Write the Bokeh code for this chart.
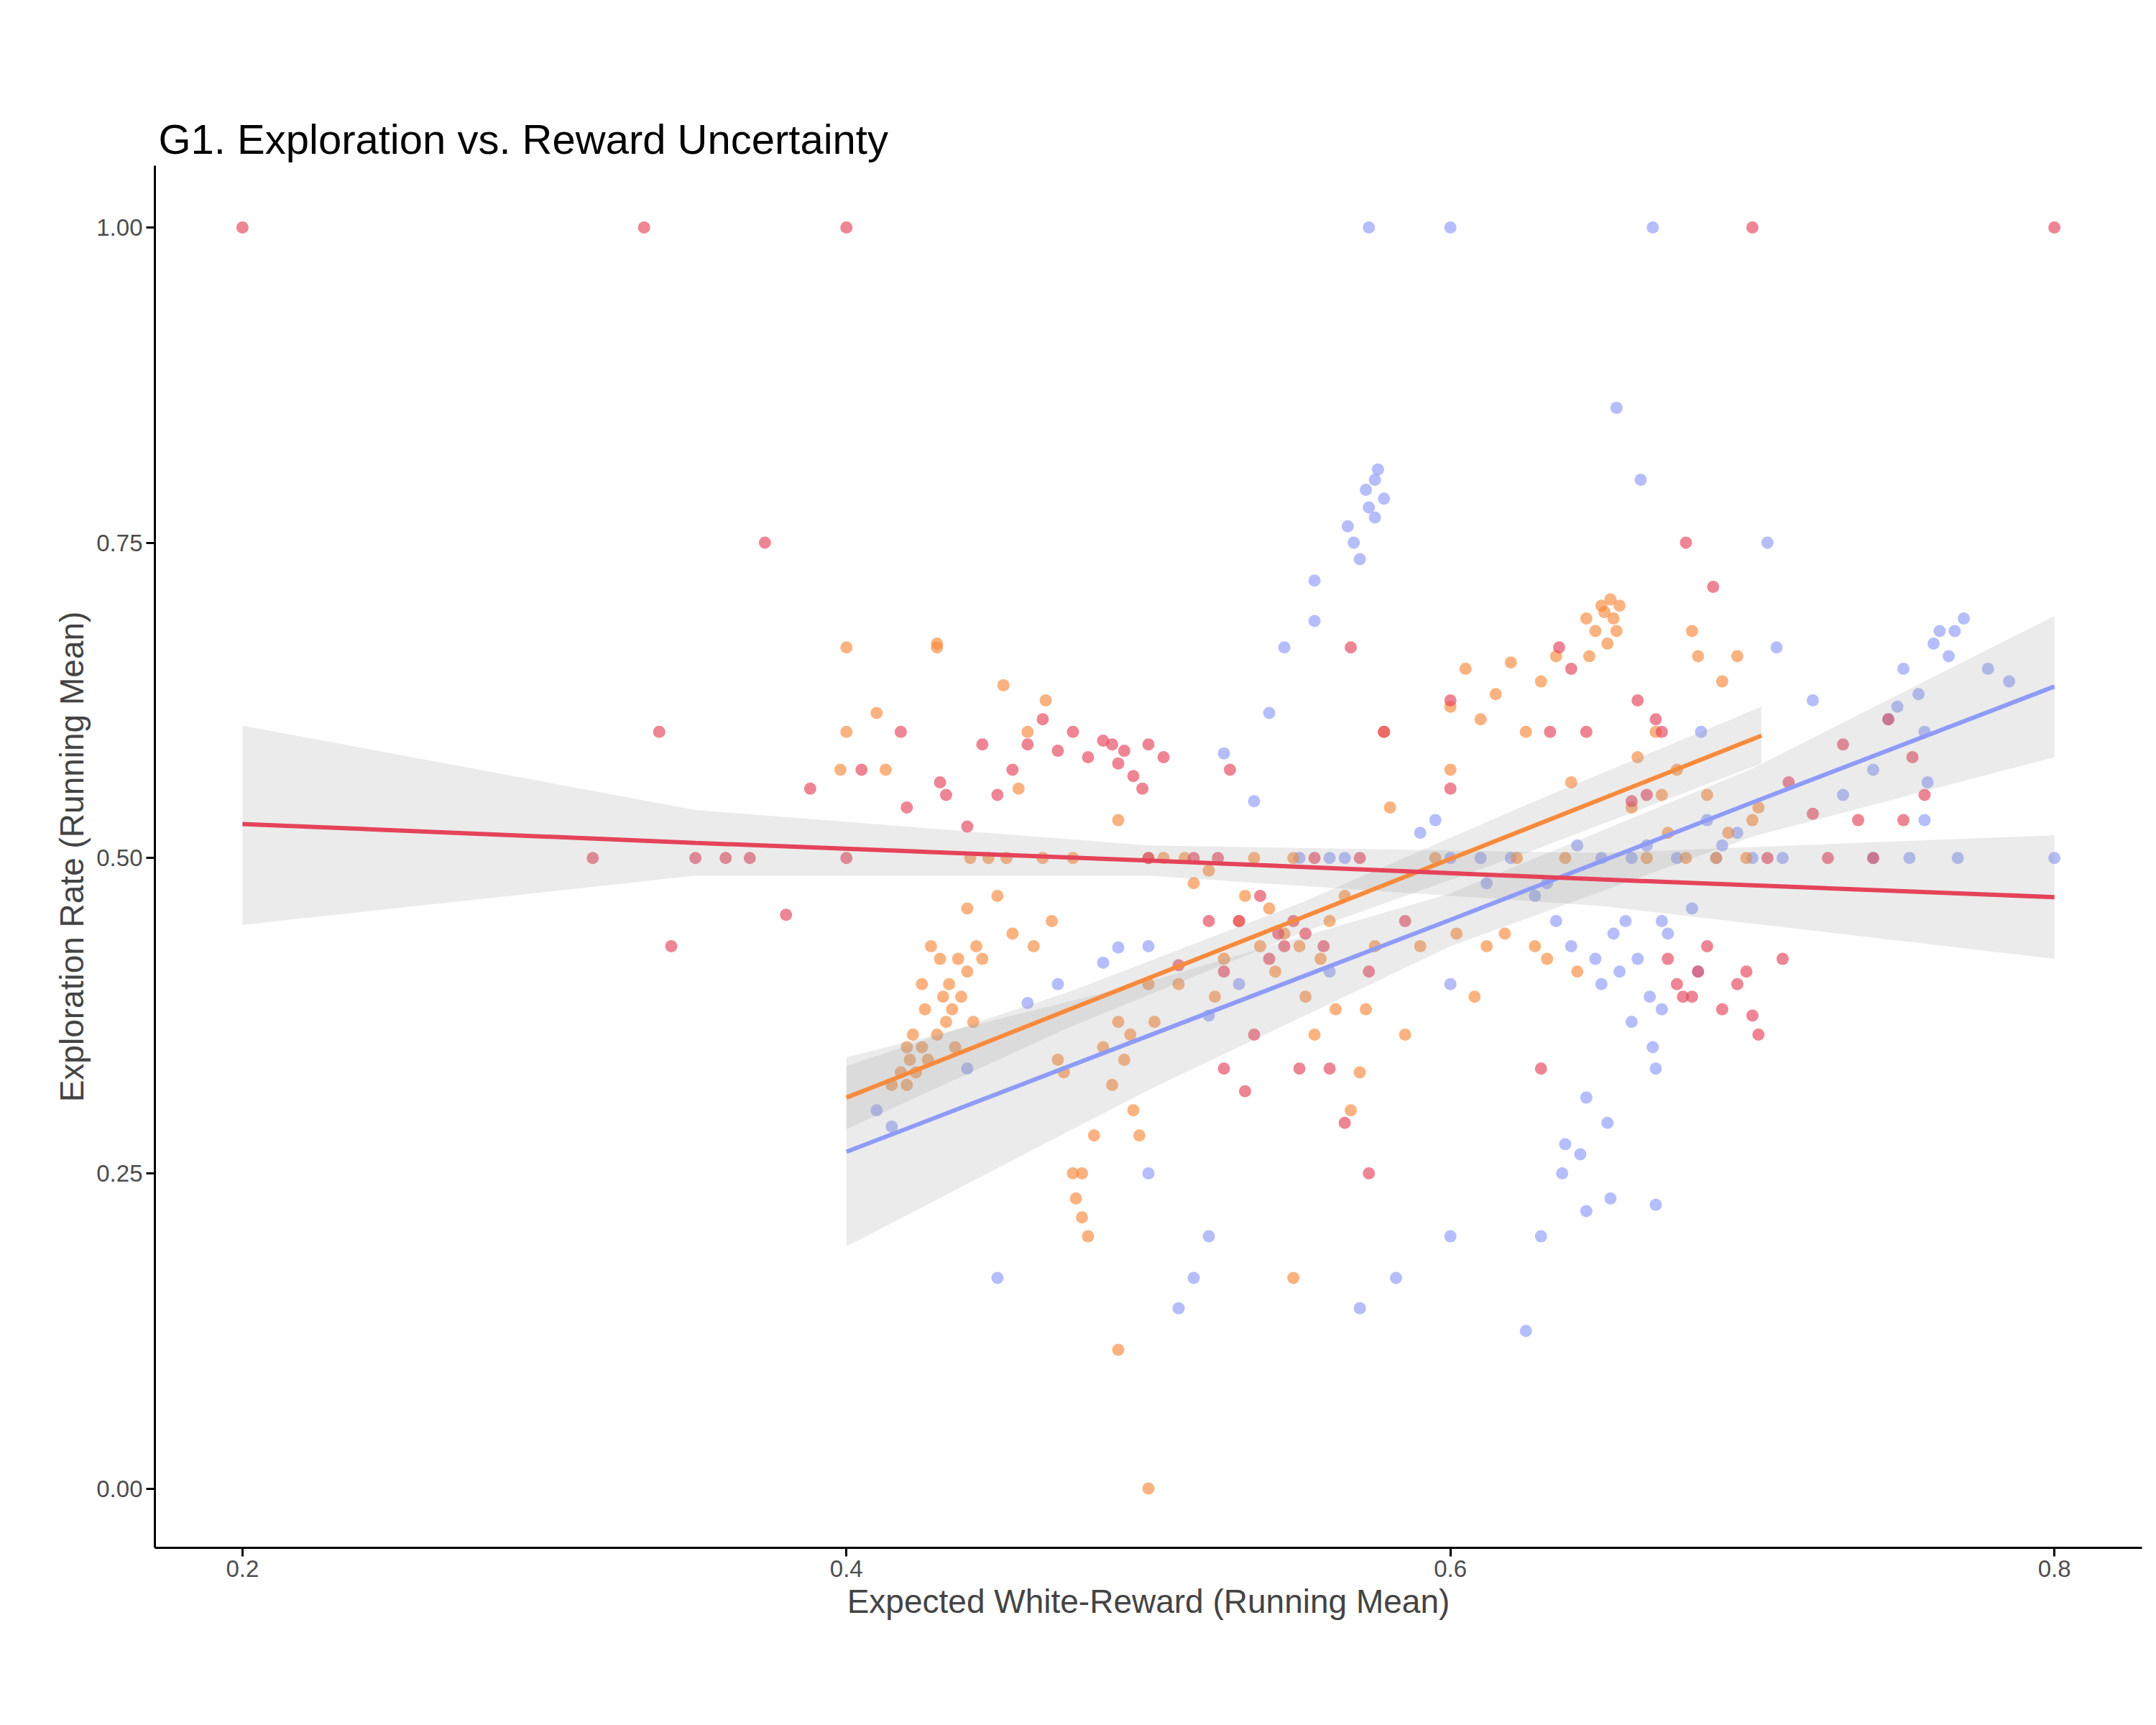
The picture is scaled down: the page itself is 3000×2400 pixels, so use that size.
from bokeh.plotting import figure
from bokeh.models import ColumnDataSource, Legend, LegendItem, FixedTicker, Range1d
from bokeh.embed import file_html
from bokeh.resources import INLINE

solo_x = [0.41,0.415,0.44,0.45,0.46,0.47,0.485,0.49,0.5,0.5,0.51,0.515,0.52,0.52,0.525,0.53,0.535,0.54,0.545,0.55,0.555,0.555,0.56,0.56,0.565,0.566,0.568,0.57,0.572,0.573,0.575,0.575,0.576,0.578,0.57,0.582,0.59,0.595,0.6,0.6,0.6,0.61,0.612,0.62,0.625,0.628,0.63,0.632,0.635,0.638,0.64,0.642,0.645,0.645,0.648,0.65,0.65,0.652,0.654,0.655,0.656,0.658,0.66,0.66,0.662,0.663,0.665,0.666,0.667,0.668,0.67,0.67,0.672,0.675,0.68,0.683,0.685,0.688,0.69,0.695,0.7,0.705,0.708,0.71,0.72,0.73,0.74,0.745,0.748,0.75,0.752,0.755,0.757,0.758,0.76,0.762,0.765,0.767,0.768,0.77,0.778,0.785,0.8,0.74,0.757,0.6,0.667,0.573,0.637,0.643,0.653,0.668,0.682]
solo_y = [0.3,0.287,0.333,0.167,0.385,0.4,0.417,0.429,0.25,0.43,0.143,0.167,0.2,0.375,0.583,0.4,0.545,0.615,0.667,0.5,0.688,0.72,0.5,0.41,0.5,0.763,0.75,0.737,0.792,0.778,0.8,0.77,0.808,0.785,0.143,0.167,0.52,0.53,0.4,0.5,0.2,0.5,0.48,0.5,0.125,0.47,0.2,0.48,0.45,0.273,0.43,0.51,0.31,0.22,0.42,0.4,0.5,0.29,0.44,0.857,0.41,0.45,0.5,0.37,0.42,0.8,0.51,0.39,0.35,0.333,0.45,0.38,0.44,0.5,0.46,0.6,0.53,0.5,0.51,0.52,0.5,0.75,0.667,0.5,0.625,0.55,0.5,0.61,0.62,0.65,0.5,0.63,0.53,0.56,0.67,0.68,0.66,0.68,0.5,0.69,0.65,0.64,0.5,0.57,0.6,1.0,1.0,1.0,0.25,0.265,0.23,0.225,0.41,0.385,0.835]
duo_x = [0.398,0.4,0.4,0.41,0.413,0.415,0.418,0.42,0.42,0.421,0.422,0.423,0.425,0.425,0.426,0.427,0.428,0.43,0.43,0.431,0.432,0.433,0.434,0.435,0.436,0.437,0.438,0.44,0.44,0.441,0.442,0.443,0.445,0.447,0.45,0.452,0.453,0.455,0.457,0.46,0.462,0.465,0.466,0.468,0.47,0.472,0.475,0.476,0.478,0.48,0.482,0.485,0.488,0.49,0.49,0.492,0.494,0.495,0.497,0.5,0.5,0.502,0.505,0.51,0.512,0.515,0.52,0.522,0.525,0.53,0.532,0.535,0.537,0.54,0.542,0.545,0.548,0.55,0.552,0.555,0.557,0.56,0.562,0.565,0.567,0.57,0.572,0.575,0.578,0.58,0.585,0.59,0.595,0.6,0.6,0.602,0.605,0.608,0.61,0.612,0.615,0.618,0.62,0.622,0.625,0.628,0.63,0.632,0.635,0.638,0.64,0.642,0.645,0.646,0.648,0.65,0.651,0.652,0.653,0.654,0.655,0.656,0.66,0.662,0.665,0.668,0.67,0.672,0.675,0.678,0.68,0.682,0.685,0.688,0.69,0.692,0.695,0.698,0.7,0.702,0.5,0.49,0.43,0.548,0.475,0.478]
duo_y = [0.57,0.667,0.6,0.615,0.57,0.32,0.33,0.35,0.32,0.34,0.36,0.33,0.35,0.4,0.38,0.34,0.43,0.667,0.36,0.42,0.39,0.37,0.4,0.38,0.35,0.42,0.39,0.46,0.41,0.5,0.37,0.43,0.42,0.5,0.47,0.637,0.5,0.44,0.555,0.6,0.43,0.5,0.625,0.45,0.34,0.33,0.5,0.23,0.215,0.2,0.28,0.35,0.32,0.53,0.37,0.34,0.36,0.3,0.28,0.5,0.4,0.37,0.5,0.4,0.5,0.48,0.49,0.39,0.42,0.45,0.47,0.5,0.43,0.46,0.41,0.44,0.5,0.43,0.39,0.36,0.42,0.45,0.38,0.47,0.3,0.33,0.38,0.43,0.6,0.54,0.36,0.43,0.5,0.57,0.62,0.44,0.65,0.39,0.61,0.43,0.63,0.44,0.655,0.5,0.6,0.43,0.64,0.42,0.66,0.5,0.56,0.41,0.69,0.66,0.68,0.7,0.695,0.67,0.705,0.69,0.68,0.7,0.54,0.58,0.5,0.6,0.55,0.52,0.57,0.5,0.68,0.66,0.55,0.5,0.64,0.52,0.66,0.5,0.53,0.54,0.0,0.11,0.67,0.167,0.25,0.25]
trio_x = [0.2,0.333,0.4,0.7,0.8,0.316,0.338,0.342,0.35,0.36,0.368,0.373,0.38,0.388,0.4,0.405,0.418,0.42,0.431,0.433,0.44,0.445,0.45,0.455,0.46,0.465,0.47,0.475,0.48,0.485,0.488,0.49,0.492,0.495,0.498,0.5,0.5,0.505,0.51,0.515,0.52,0.523,0.525,0.527,0.53,0.532,0.535,0.537,0.54,0.543,0.545,0.548,0.55,0.552,0.555,0.558,0.56,0.565,0.567,0.57,0.573,0.578,0.585,0.6,0.63,0.633,0.636,0.64,0.645,0.66,0.662,0.665,0.668,0.67,0.672,0.675,0.677,0.678,0.68,0.682,0.685,0.687,0.69,0.695,0.698,0.7,0.702,0.705,0.71,0.712,0.72,0.725,0.73,0.735,0.74,0.745,0.75,0.753,0.757,0.6,0.525,0.573]
trio_y = [1.0,1.0,1.0,1.0,1.0,0.5,0.6,0.43,0.5,0.5,0.5,0.75,0.455,0.555,0.5,0.57,0.6,0.54,0.56,0.55,0.525,0.59,0.55,0.57,0.59,0.61,0.585,0.6,0.58,0.593,0.59,0.575,0.585,0.565,0.555,0.59,0.5,0.58,0.415,0.5,0.45,0.5,0.41,0.57,0.45,0.315,0.36,0.47,0.42,0.44,0.43,0.45,0.333,0.44,0.5,0.43,0.333,0.29,0.667,0.5,0.41,0.6,0.45,0.555,0.333,0.6,0.667,0.65,0.6,0.545,0.625,0.55,0.61,0.6,0.42,0.4,0.39,0.75,0.39,0.41,0.43,0.715,0.38,0.4,0.41,0.375,0.36,0.5,0.42,0.56,0.535,0.5,0.59,0.53,0.5,0.61,0.53,0.58,0.55,0.625,0.333,0.25,0.25]

fit_x = {"solo": [0.4, 0.5, 0.6, 0.7, 0.8], "duo": [0.4, 0.475, 0.55, 0.625, 0.703], "trio": [0.2, 0.35, 0.5, 0.65, 0.8]}
fit_y = {"solo": [0.267, 0.359, 0.451, 0.544, 0.636], "duo": [0.31, 0.381, 0.452, 0.523, 0.597], "trio": [0.527, 0.512, 0.498, 0.483, 0.469]}
fit_lo = {"solo": [0.192, 0.316, 0.43, 0.517, 0.58], "duo": [0.285, 0.367, 0.44, 0.504, 0.575], "trio": [0.447, 0.486, 0.486, 0.462, 0.42]}
fit_hi = {"solo": [0.342, 0.402, 0.472, 0.571, 0.692], "duo": [0.335, 0.395, 0.464, 0.542, 0.62], "trio": [0.605, 0.538, 0.51, 0.504, 0.518]}

colors = {"solo": "#8E9BF8", "duo": "#F88A3C", "trio": "#E5435A"}
pts = {"solo": (solo_x, solo_y), "duo": (duo_x, duo_y), "trio": (trio_x, trio_y)}

FW, FH = 2765, 1923
p = figure(frame_width=FW, frame_height=FH, output_backend="svg", toolbar_location=None,
           x_range=Range1d(0.171, 0.829), y_range=Range1d(-0.047, 1.049),
           min_border_left=215, min_border_right=20, min_border_bottom=150, min_border_top=230)
p.background_fill_color = "white"
p.border_fill_color = "white"
p.outline_line_color = None
p.grid.visible = False

p.title.text = "G1. Exploration vs. Reward Uncertainty"
p.title.text_font = "Liberation Sans"
p.title.text_font_size = "58px"
p.title.text_font_style = "normal"
p.title.text_color = "black"
p.title.offset = 5

for ax in (p.xaxis, p.yaxis):
    ax.axis_line_color = "black"
    ax.axis_line_width = 3
    ax.major_tick_line_width = 3
    ax.major_tick_out = 12
    ax.major_tick_in = 0
    ax.minor_tick_line_color = None
    ax.major_label_text_font = "Liberation Sans"
    ax.major_label_text_font_size = "33px"
    ax.major_label_text_color = "#4d4d4d"
    ax.axis_label_text_font = "Liberation Sans"
    ax.axis_label_text_font_size = "46px"
    ax.axis_label_text_font_style = "normal"
p.xaxis.ticker = FixedTicker(ticks=[0.2, 0.4, 0.6, 0.8])
p.xaxis.major_label_overrides = {0.2: "0.2", 0.4: "0.4", 0.6: "0.6", 0.8: "0.8"}
p.yaxis.ticker = FixedTicker(ticks=[0, 0.25, 0.5, 0.75, 1.0])
p.yaxis.major_label_overrides = {0: "0.00", 0.25: "0.25", 0.5: "0.50", 0.75: "0.75", 1.0: "1.00"}
p.xaxis.axis_label = "Expected White-Reward (Running Mean)"
p.yaxis.axis_label = "Exploration Rate (Running Mean)"

for k in ["solo", "duo", "trio"]:
    xs, ys = pts[k]
    p.scatter(xs, ys, size=17, color=colors[k], alpha=0.65, line_color=None)

for k in ["solo", "duo", "trio"]:
    p.varea(x=fit_x[k], y1=fit_lo[k], y2=fit_hi[k], fill_color="#999999", fill_alpha=0.2)

items = []
dummy = p.scatter([], [], size=0, alpha=0)
items.append(LegendItem(label="Social Context", renderers=[dummy]))
for k in ["solo", "duo", "trio"]:
    ln = p.line(fit_x[k], fit_y[k], line_color=colors[k], line_width=6)
    bg = p.rect([], [], width=1, height=1, fill_color="#EBEBEB", line_color=None)
    sc = p.scatter([], [], size=17, color=colors[k], alpha=0.65, line_color=None)
    items.append(LegendItem(label=k, renderers=[bg, ln, sc]))

leg = Legend(items=items, orientation="horizontal", location=(800, FH + 88),
             label_text_font="Liberation Sans", label_text_font_size="40px",
             glyph_width=66, glyph_height=66, spacing=14, label_standoff=12,
             border_line_color=None, background_fill_alpha=0, margin=0, padding=0)
p.add_layout(leg)

open("out.html", "w").write(file_html(p, INLINE))
